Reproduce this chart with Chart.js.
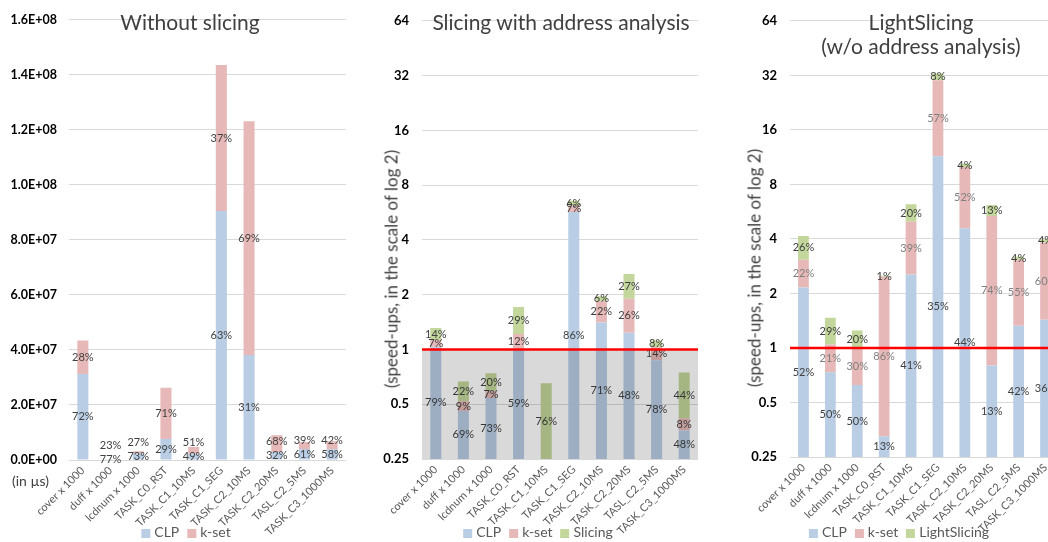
<!DOCTYPE html>
<html>
<head>
<meta charset="utf-8">
<script src="https://cdn.jsdelivr.net/npm/chart.js@4.4.1/dist/chart.umd.min.js"></script>
<style>
  html, body { margin: 0; padding: 0; background: #fff; }
  body { width: 1048px; height: 542px; overflow: hidden; position: relative; font-family: Lato, "Open Sans", sans-serif; color: #404040; }
  canvas { position: absolute; top: 0; }
  .title { position: absolute; font-size: 21px; line-height: 24px; white-space: nowrap; transform: translateX(-50%); text-align: center; }
  .ytitle { position: absolute; font-size: 17px; white-space: nowrap; transform: translate(-50%, -50%) rotate(-90deg); }
  .unit { position: absolute; left: 12px; top: 472px; font-size: 14px; }
  .legend { position: absolute; top: 523px; font-size: 14px; color: #595959; display: flex; gap: 8px; transform: translateX(-50%); white-space: nowrap; align-items: center; }
  .legend i { display: inline-block; width: 9px; height: 9px; margin-right: 4px; vertical-align: -1px; }
</style>
</head>
<body>
<canvas id="c1" width="346" height="542" style="left:0px"></canvas>
<canvas id="c2" width="353" height="542" style="left:345px"></canvas>
<canvas id="c3" width="359" height="542" style="left:700px"></canvas>

<div class="title" style="left:190px; top:10px">Without slicing</div>
<div class="title" style="left:561px; top:10px">Slicing with address analysis</div>
<div class="title" style="left:921px; top:10px">LightSlicing<br>(w/o address analysis)</div>
<div class="ytitle" style="left:391px; top:269px">(speed-ups, in the scale of log 2)</div>
<div class="ytitle" style="left:754px; top:268px">(speed-ups, in the scale of log 2)</div>
<div class="unit">(in µs)</div>

<div class="legend" style="left:186px"><span><i style="background:#b9cde5"></i>CLP</span><span><i style="background:#e6b9b8"></i>k-set</span></div>
<div class="legend" style="left:538px"><span><i style="background:#b9cde5"></i>CLP</span><span><i style="background:#e6b9b8"></i>k-set</span><span><i style="background:#c3d69b"></i>Slicing</span></div>
<div class="legend" style="left:899px"><span><i style="background:#b9cde5"></i>CLP</span><span><i style="background:#e6b9b8"></i>k-set</span><span><i style="background:#c3d69b"></i>LightSlicing</span></div>

<script>
const categories = ['cover x 1000', 'duff x 1000', 'lcdnum x 1000', 'TASK_C0_RST', 'TASK_C1_10MS',
  'TASK_C1_SEG', 'TASK_C2_10MS', 'TASK_C2_20MS', 'TASL_C2_5MS', 'TASK_C3_1000MS'];

// without slicing: total time (in µs) and share of each phase (%)
const timeTotal = [4.34e7, 3.0e5, 3.2e6, 2.62e7, 4.7e6, 1.435e8, 1.23e8, 9.0e6, 6.5e6, 6.8e6];
const timeClp = [72, 77, 73, 29, 49, 63, 31, 32, 61, 58];
const timeKset = [28, 23, 27, 71, 51, 37, 69, 68, 39, 42];

// slicing with address analysis: speed-up and share of each part (%)
const sliceTotal = [1.31, 0.666, 0.74, 1.71, 0.652, 6.63, 1.98, 2.57, 1.12, 0.748];
const sliceClp = [79, 69, 73, 59, 14, 86, 71, 48, 78, 48];
const sliceKset = [7, 9, 7, 12, 10, 7, 22, 26, 14, 8];
const sliceSlicing = [14, 22, 20, 29, 76, 6, 6, 27, 8, 44];

// LightSlicing (w/o address analysis)
const lightTotal = [4.15, 1.47, 1.25, 2.5, 6.21, 32.7, 10.4, 6.16, 3.16, 3.98];
const lightClp = [52, 50, 50, 13, 41, 35, 44, 13, 42, 36];
const lightKset = [22, 21, 30, 86, 39, 57, 52, 74, 55, 60];
const lightSlicing = [26, 29, 20, 1, 20, 8, 4, 13, 4, 4];

const timeTicks = [0, 2e7, 4e7, 6e7, 8e7, 1e8, 1.2e8, 1.4e8, 1.6e8];
const logTicks = [0.25, 0.5, 1, 2, 4, 8, 16, 32, 64];

const BLUE = '#b9cde5', PINK = '#e6b9b8', GREEN = '#c3d69b';

Chart.defaults.font.family = 'Lato, "Open Sans", sans-serif';
Chart.defaults.animation = false;

function part(total, shares) {
  return total.map((t, i) => t * shares[i] / 100);
}

function sci(v) {
  if (v === 0) return '0.0E+00';
  const e = Math.floor(Math.log10(v));
  const m = v / Math.pow(10, e);
  return m.toFixed(1) + 'E+' + String(e).padStart(2, '0');
}

// percentage label in the middle of each visible segment
const segmentLabels = {
  id: 'segmentLabels',
  afterDatasetsDraw(chart, args, opts) {
    const { ctx, chartArea } = chart;
    ctx.save();
    ctx.font = '11px Lato, "Open Sans", sans-serif';
    ctx.textAlign = 'center';
    ctx.textBaseline = 'middle';
    for (let j = 0; j < chart.data.labels.length; j++) {
      let prev = Infinity;
      chart.data.datasets.forEach((ds, i) => {
        const bar = chart.getDatasetMeta(i).data[j];
        if (bar.y >= chartArea.bottom) return;
        const top = Math.max(bar.y, chartArea.top);
        const bottom = Math.min(bar.base, chartArea.bottom);
        let y = (top + bottom) / 2;
        if (opts.gap) y = Math.min(y, prev - opts.gap);
        prev = y;
        ctx.fillStyle = ds.labelColor || '#404040';
        ctx.fillText(ds.shares[j] + '%', bar.x, y);
      });
    }
    ctx.restore();
  }
};

// red line at speed-up 1, optional grey shading below it
const oneLine = {
  id: 'oneLine',
  afterDraw(chart, args, opts) {
    if (!opts.show) return;
    const { ctx, chartArea } = chart;
    const y = chart.scales.y.getPixelForValue(1);
    ctx.save();
    if (opts.shade) {
      ctx.fillStyle = 'rgba(0,0,0,0.15)';
      ctx.fillRect(chartArea.left, y, chartArea.right - chartArea.left, chartArea.bottom - y);
    }
    ctx.strokeStyle = '#ff0000';
    ctx.lineWidth = 2.5;
    ctx.beginPath();
    ctx.moveTo(chartArea.left, y);
    ctx.lineTo(chartArea.right, y);
    ctx.stroke();
    ctx.restore();
  }
};

function dataset(label, data, shares, color, labelColor) {
  return {
    label: label,
    data: data,
    shares: shares,
    labelColor: labelColor,
    backgroundColor: color,
    categoryPercentage: 1,
    barPercentage: 0.4,
    clip: 0
  };
}

function makeChart(id, datasets, yScale, yWidth, padBottom, plugOpts) {
  return new Chart(document.getElementById(id), {
    type: 'bar',
    data: { labels: categories, datasets: datasets },
    plugins: [segmentLabels, oneLine],
    options: {
      responsive: false,
      layout: { padding: { top: 14, right: 0, bottom: padBottom, left: 0 } },
      plugins: {
        legend: { display: false },
        tooltip: { enabled: false },
        segmentLabels: plugOpts.labels,
        oneLine: plugOpts.line
      },
      scales: {
        x: {
          stacked: true,
          grid: { display: false, drawTicks: false },
          border: { display: true, color: '#d9d9d9' },
          ticks: { autoSkip: false, minRotation: 45, maxRotation: 45, padding: 4,
                   color: '#595959', font: { size: 11 } },
          afterFit(scale) { scale.height = 80; }
        },
        y: Object.assign({
          stacked: true,
          grid: { color: '#d9d9d9', drawTicks: false },
          border: { display: false },
          afterFit(scale) { scale.width = yWidth; }
        }, yScale)
      }
    }
  });
}

makeChart('c1', [
  dataset('CLP', part(timeTotal, timeClp), timeClp, BLUE),
  dataset('k-set', part(timeTotal, timeKset), timeKset, PINK)
], {
  type: 'linear', min: 0, max: 1.6e8,
  afterBuildTicks(scale) { scale.ticks = timeTicks.map(v => ({ value: v })); },
  ticks: { callback: v => sci(v), padding: 12, color: '#000', font: { size: 12.5, weight: 'bold' } }
}, 69, 2, { labels: { gap: 14 }, line: { show: false } });

const logY = {
  type: 'logarithmic', min: 0.25, max: 64,
  afterBuildTicks(scale) { scale.ticks = logTicks.map(v => ({ value: v })); },
  ticks: { callback: v => String(v), padding: 13, color: '#000', font: { size: 13, weight: 'bold' } }
};

makeChart('c2', [
  dataset('CLP', part(sliceTotal, sliceClp), sliceClp, BLUE),
  dataset('k-set', part(sliceTotal, sliceKset), sliceKset, PINK),
  dataset('Slicing', part(sliceTotal, sliceSlicing), sliceSlicing, GREEN)
], logY, 77, 3, { labels: { gap: 0 }, line: { show: true, shade: true } });

makeChart('c3', [
  dataset('CLP', part(lightTotal, lightClp), lightClp, BLUE),
  dataset('k-set', part(lightTotal, lightKset), lightKset, PINK, '#7f7f7f'),
  dataset('LightSlicing', part(lightTotal, lightSlicing), lightSlicing, GREEN)
], logY, 90, 5, { labels: { gap: 0 }, line: { show: true, shade: false } });
</script>
</body>
</html>
